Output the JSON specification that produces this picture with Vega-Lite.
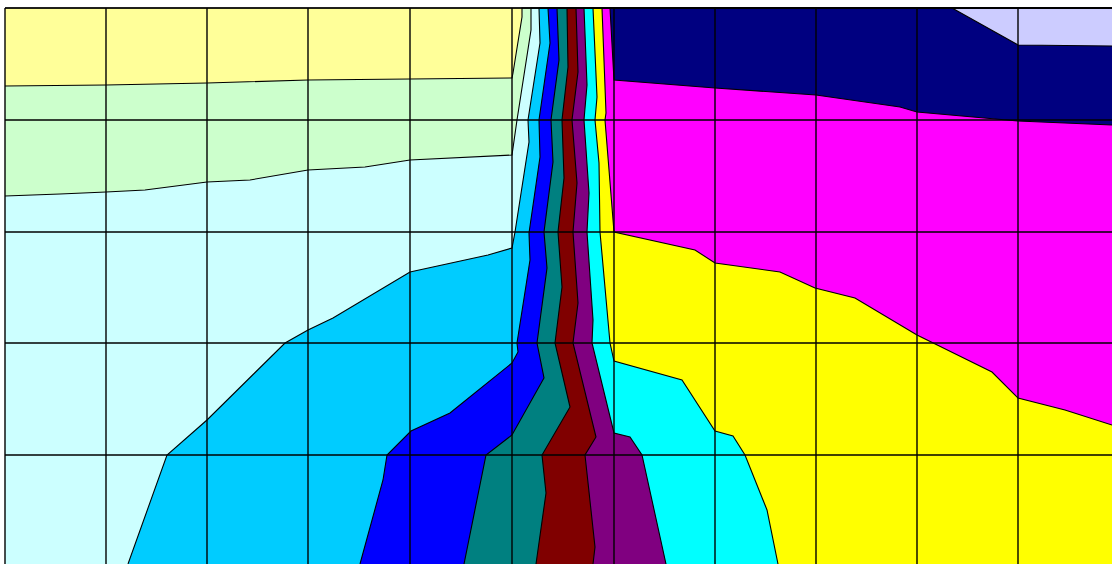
{"$schema":"https://vega.github.io/schema/vega-lite/v6.json","width":1112,"height":564,"padding":0,"autosize":{"type":"none"},"background":"white","view":{"stroke":null},
"data":{"values":[
{"s":"b00","i":0,"x":5,"y":8,"base":564},{"s":"b00","i":1,"x":1112,"y":8,"base":564},
{"s":"b01","i":0,"x":5,"y":86,"base":564},{"s":"b01","i":1,"x":106,"y":85,"base":564},{"s":"b01","i":2,"x":207,"y":83,"base":564},{"s":"b01","i":3,"x":308,"y":80,"base":564},{"s":"b01","i":4,"x":410,"y":79,"base":564},{"s":"b01","i":5,"x":512,"y":78,"base":564},{"s":"b01","i":6,"x":513,"y":73,"base":564},{"s":"b01","i":7,"x":522,"y":17,"base":564},{"s":"b01","i":8,"x":522,"y":8,"base":564},{"s":"b01","i":9,"x":1112,"y":8,"base":564},
{"s":"b02","i":0,"x":5,"y":196,"base":564},{"s":"b02","i":1,"x":60,"y":194,"base":564},{"s":"b02","i":2,"x":106,"y":192,"base":564},{"s":"b02","i":3,"x":145,"y":190,"base":564},{"s":"b02","i":4,"x":207,"y":182,"base":564},{"s":"b02","i":5,"x":250,"y":180,"base":564},{"s":"b02","i":6,"x":308,"y":170,"base":564},{"s":"b02","i":7,"x":365,"y":167,"base":564},{"s":"b02","i":8,"x":410,"y":160,"base":564},{"s":"b02","i":9,"x":512,"y":155,"base":564},{"s":"b02","i":10,"x":517,"y":120,"base":564},{"s":"b02","i":11,"x":531,"y":30,"base":564},{"s":"b02","i":12,"x":531,"y":8,"base":564},{"s":"b02","i":13,"x":1112,"y":8,"base":564},
{"s":"b03","i":0,"x":128,"y":564,"base":564},{"s":"b03","i":1,"x":167,"y":455,"base":564},{"s":"b03","i":2,"x":207,"y":420,"base":564},{"s":"b03","i":3,"x":285,"y":343,"base":564},{"s":"b03","i":4,"x":308,"y":330,"base":564},{"s":"b03","i":5,"x":333,"y":318,"base":564},{"s":"b03","i":6,"x":410,"y":272,"base":564},{"s":"b03","i":7,"x":488,"y":255,"base":564},{"s":"b03","i":8,"x":512,"y":248,"base":564},{"s":"b03","i":9,"x":515,"y":232,"base":564},{"s":"b03","i":10,"x":529,"y":142,"base":564},{"s":"b03","i":11,"x":528,"y":120,"base":564},{"s":"b03","i":12,"x":540,"y":43,"base":564},{"s":"b03","i":13,"x":539,"y":8,"base":564},{"s":"b03","i":14,"x":1112,"y":8,"base":564},
{"s":"b04","i":0,"x":360,"y":564,"base":564},{"s":"b04","i":1,"x":383,"y":480,"base":564},{"s":"b04","i":2,"x":387,"y":455,"base":564},{"s":"b04","i":3,"x":411,"y":431,"base":564},{"s":"b04","i":4,"x":450,"y":413,"base":564},{"s":"b04","i":5,"x":512,"y":363,"base":564},{"s":"b04","i":6,"x":518,"y":352,"base":564},{"s":"b04","i":7,"x":517,"y":343,"base":564},{"s":"b04","i":8,"x":530,"y":260,"base":564},{"s":"b04","i":9,"x":529,"y":233,"base":564},{"s":"b04","i":10,"x":540,"y":157,"base":564},{"s":"b04","i":11,"x":539,"y":120,"base":564},{"s":"b04","i":12,"x":550,"y":43,"base":564},{"s":"b04","i":13,"x":548,"y":8,"base":564},{"s":"b04","i":14,"x":1112,"y":8,"base":564},
{"s":"b05","i":0,"x":464,"y":564,"base":564},{"s":"b05","i":1,"x":486,"y":455,"base":564},{"s":"b05","i":2,"x":512,"y":435,"base":564},{"s":"b05","i":3,"x":544,"y":378,"base":564},{"s":"b05","i":4,"x":537,"y":343,"base":564},{"s":"b05","i":5,"x":547,"y":268,"base":564},{"s":"b05","i":6,"x":544,"y":232,"base":564},{"s":"b05","i":7,"x":553,"y":162,"base":564},{"s":"b05","i":8,"x":551,"y":120,"base":564},{"s":"b05","i":9,"x":559,"y":60,"base":564},{"s":"b05","i":10,"x":557,"y":8,"base":564},{"s":"b05","i":11,"x":1112,"y":8,"base":564},
{"s":"b06","i":0,"x":536,"y":564,"base":564},{"s":"b06","i":1,"x":546,"y":493,"base":564},{"s":"b06","i":2,"x":542,"y":455,"base":564},{"s":"b06","i":3,"x":570,"y":407,"base":564},{"s":"b06","i":4,"x":555,"y":343,"base":564},{"s":"b06","i":5,"x":562,"y":287,"base":564},{"s":"b06","i":6,"x":558,"y":232,"base":564},{"s":"b06","i":7,"x":564,"y":178,"base":564},{"s":"b06","i":8,"x":562,"y":120,"base":564},{"s":"b06","i":9,"x":568,"y":67,"base":564},{"s":"b06","i":10,"x":567,"y":8,"base":564},{"s":"b06","i":11,"x":1112,"y":8,"base":564},
{"s":"b07","i":0,"x":593,"y":564,"base":564},{"s":"b07","i":1,"x":595,"y":547,"base":564},{"s":"b07","i":2,"x":585,"y":455,"base":564},{"s":"b07","i":3,"x":596,"y":437,"base":564},{"s":"b07","i":4,"x":573,"y":343,"base":564},{"s":"b07","i":5,"x":578,"y":303,"base":564},{"s":"b07","i":6,"x":573,"y":232,"base":564},{"s":"b07","i":7,"x":577,"y":183,"base":564},{"s":"b07","i":8,"x":572,"y":120,"base":564},{"s":"b07","i":9,"x":578,"y":72,"base":564},{"s":"b07","i":10,"x":576,"y":8,"base":564},{"s":"b07","i":11,"x":1112,"y":8,"base":564},
{"s":"b08","i":0,"x":666,"y":564,"base":564},{"s":"b08","i":1,"x":642,"y":455,"base":564},{"s":"b08","i":2,"x":630,"y":437,"base":564},{"s":"b08","i":3,"x":614,"y":433,"base":564},{"s":"b08","i":4,"x":592,"y":343,"base":564},{"s":"b08","i":5,"x":593,"y":320,"base":564},{"s":"b08","i":6,"x":587,"y":232,"base":564},{"s":"b08","i":7,"x":589,"y":193,"base":564},{"s":"b08","i":8,"x":584,"y":120,"base":564},{"s":"b08","i":9,"x":587,"y":85,"base":564},{"s":"b08","i":10,"x":584,"y":8,"base":564},{"s":"b08","i":11,"x":1112,"y":8,"base":564},
{"s":"b09","i":0,"x":778,"y":564,"base":564},{"s":"b09","i":1,"x":767,"y":510,"base":564},{"s":"b09","i":2,"x":745,"y":455,"base":564},{"s":"b09","i":3,"x":733,"y":436,"base":564},{"s":"b09","i":4,"x":715,"y":431,"base":564},{"s":"b09","i":5,"x":682,"y":380,"base":564},{"s":"b09","i":6,"x":614,"y":361,"base":564},{"s":"b09","i":7,"x":610,"y":343,"base":564},{"s":"b09","i":8,"x":600,"y":232,"base":564},{"s":"b09","i":9,"x":599,"y":163,"base":564},{"s":"b09","i":10,"x":595,"y":120,"base":564},{"s":"b09","i":11,"x":597,"y":97,"base":564},{"s":"b09","i":12,"x":593,"y":8,"base":564},{"s":"b09","i":13,"x":1112,"y":8,"base":564},
{"s":"b10","i":0,"x":602,"y":8,"base":8},{"s":"b10","i":1,"x":606,"y":113,"base":8},{"s":"b10","i":2,"x":605,"y":120,"base":8},{"s":"b10","i":3,"x":614,"y":232,"base":8},{"s":"b10","i":4,"x":695,"y":250,"base":8},{"s":"b10","i":5,"x":715,"y":263,"base":8},{"s":"b10","i":6,"x":780,"y":272,"base":8},{"s":"b10","i":7,"x":815,"y":288,"base":8},{"s":"b10","i":8,"x":855,"y":298,"base":8},{"s":"b10","i":9,"x":917,"y":335,"base":8},{"s":"b10","i":10,"x":992,"y":372,"base":8},{"s":"b10","i":11,"x":1018,"y":398,"base":8},{"s":"b10","i":12,"x":1065,"y":410,"base":8},{"s":"b10","i":13,"x":1112,"y":425,"base":8},
{"s":"b11","i":0,"x":610,"y":8,"base":8},{"s":"b11","i":1,"x":614,"y":80,"base":8},{"s":"b11","i":2,"x":715,"y":88,"base":8},{"s":"b11","i":3,"x":816,"y":95,"base":8},{"s":"b11","i":4,"x":900,"y":107,"base":8},{"s":"b11","i":5,"x":917,"y":112,"base":8},{"s":"b11","i":6,"x":1018,"y":121,"base":8},{"s":"b11","i":7,"x":1112,"y":125,"base":8},
{"s":"b12","i":0,"x":952,"y":8,"base":8},{"s":"b12","i":1,"x":1018,"y":45,"base":8},{"s":"b12","i":2,"x":1112,"y":46,"base":8}
]},
"encoding":{"x":{"field":"x","type":"quantitative","scale":{"domain":[0,1112],"nice":false,"zero":false},"axis":null},"y":{"field":"y","type":"quantitative","stack":null,"scale":{"domain":[564,0],"nice":false,"zero":false},"axis":null}},
"layer":[
{"mark":{"type":"area","orient":"vertical","clip":true},"encoding":{"order":{"value":null},"y2":{"field":"base"},"color":{"field":"s","type":"nominal","legend":null,"scale":{"domain":["b00","b01","b02","b03","b04","b05","b06","b07","b08","b09","b10","b11","b12"],"range":["#FFFF99","#CCFFCC","#CCFFFF","#00CCFF","#0000FF","#008080","#800000","#800080","#00FFFF","#FFFF00","#FF00FF","#000080","#CCCCFF"]}}}},
{"mark":{"type":"line","color":"#000000","strokeWidth":1.1,"clip":true},"encoding":{"order":{"value":null},"detail":{"field":"s","type":"nominal"}}},
{"data":{"values":[{"x":5,"y":8,"y2":564},{"x":106,"y":8,"y2":564},{"x":207,"y":8,"y2":564},{"x":308,"y":8,"y2":564},{"x":410,"y":8,"y2":564},{"x":512,"y":8,"y2":564},{"x":614,"y":8,"y2":564},{"x":715,"y":8,"y2":564},{"x":816,"y":8,"y2":564},{"x":917,"y":8,"y2":564},{"x":1018,"y":8,"y2":564}]},"mark":{"type":"rule","color":"#000000","strokeWidth":1.4},"encoding":{"y2":{"field":"y2"}}},
{"data":{"values":[{"x":5,"x2":1112,"y":8},{"x":5,"x2":1112,"y":120},{"x":5,"x2":1112,"y":232},{"x":5,"x2":1112,"y":343},{"x":5,"x2":1112,"y":455}]},"mark":{"type":"rule","color":"#000000","strokeWidth":1.4},"encoding":{"x2":{"field":"x2"}}}
]}
